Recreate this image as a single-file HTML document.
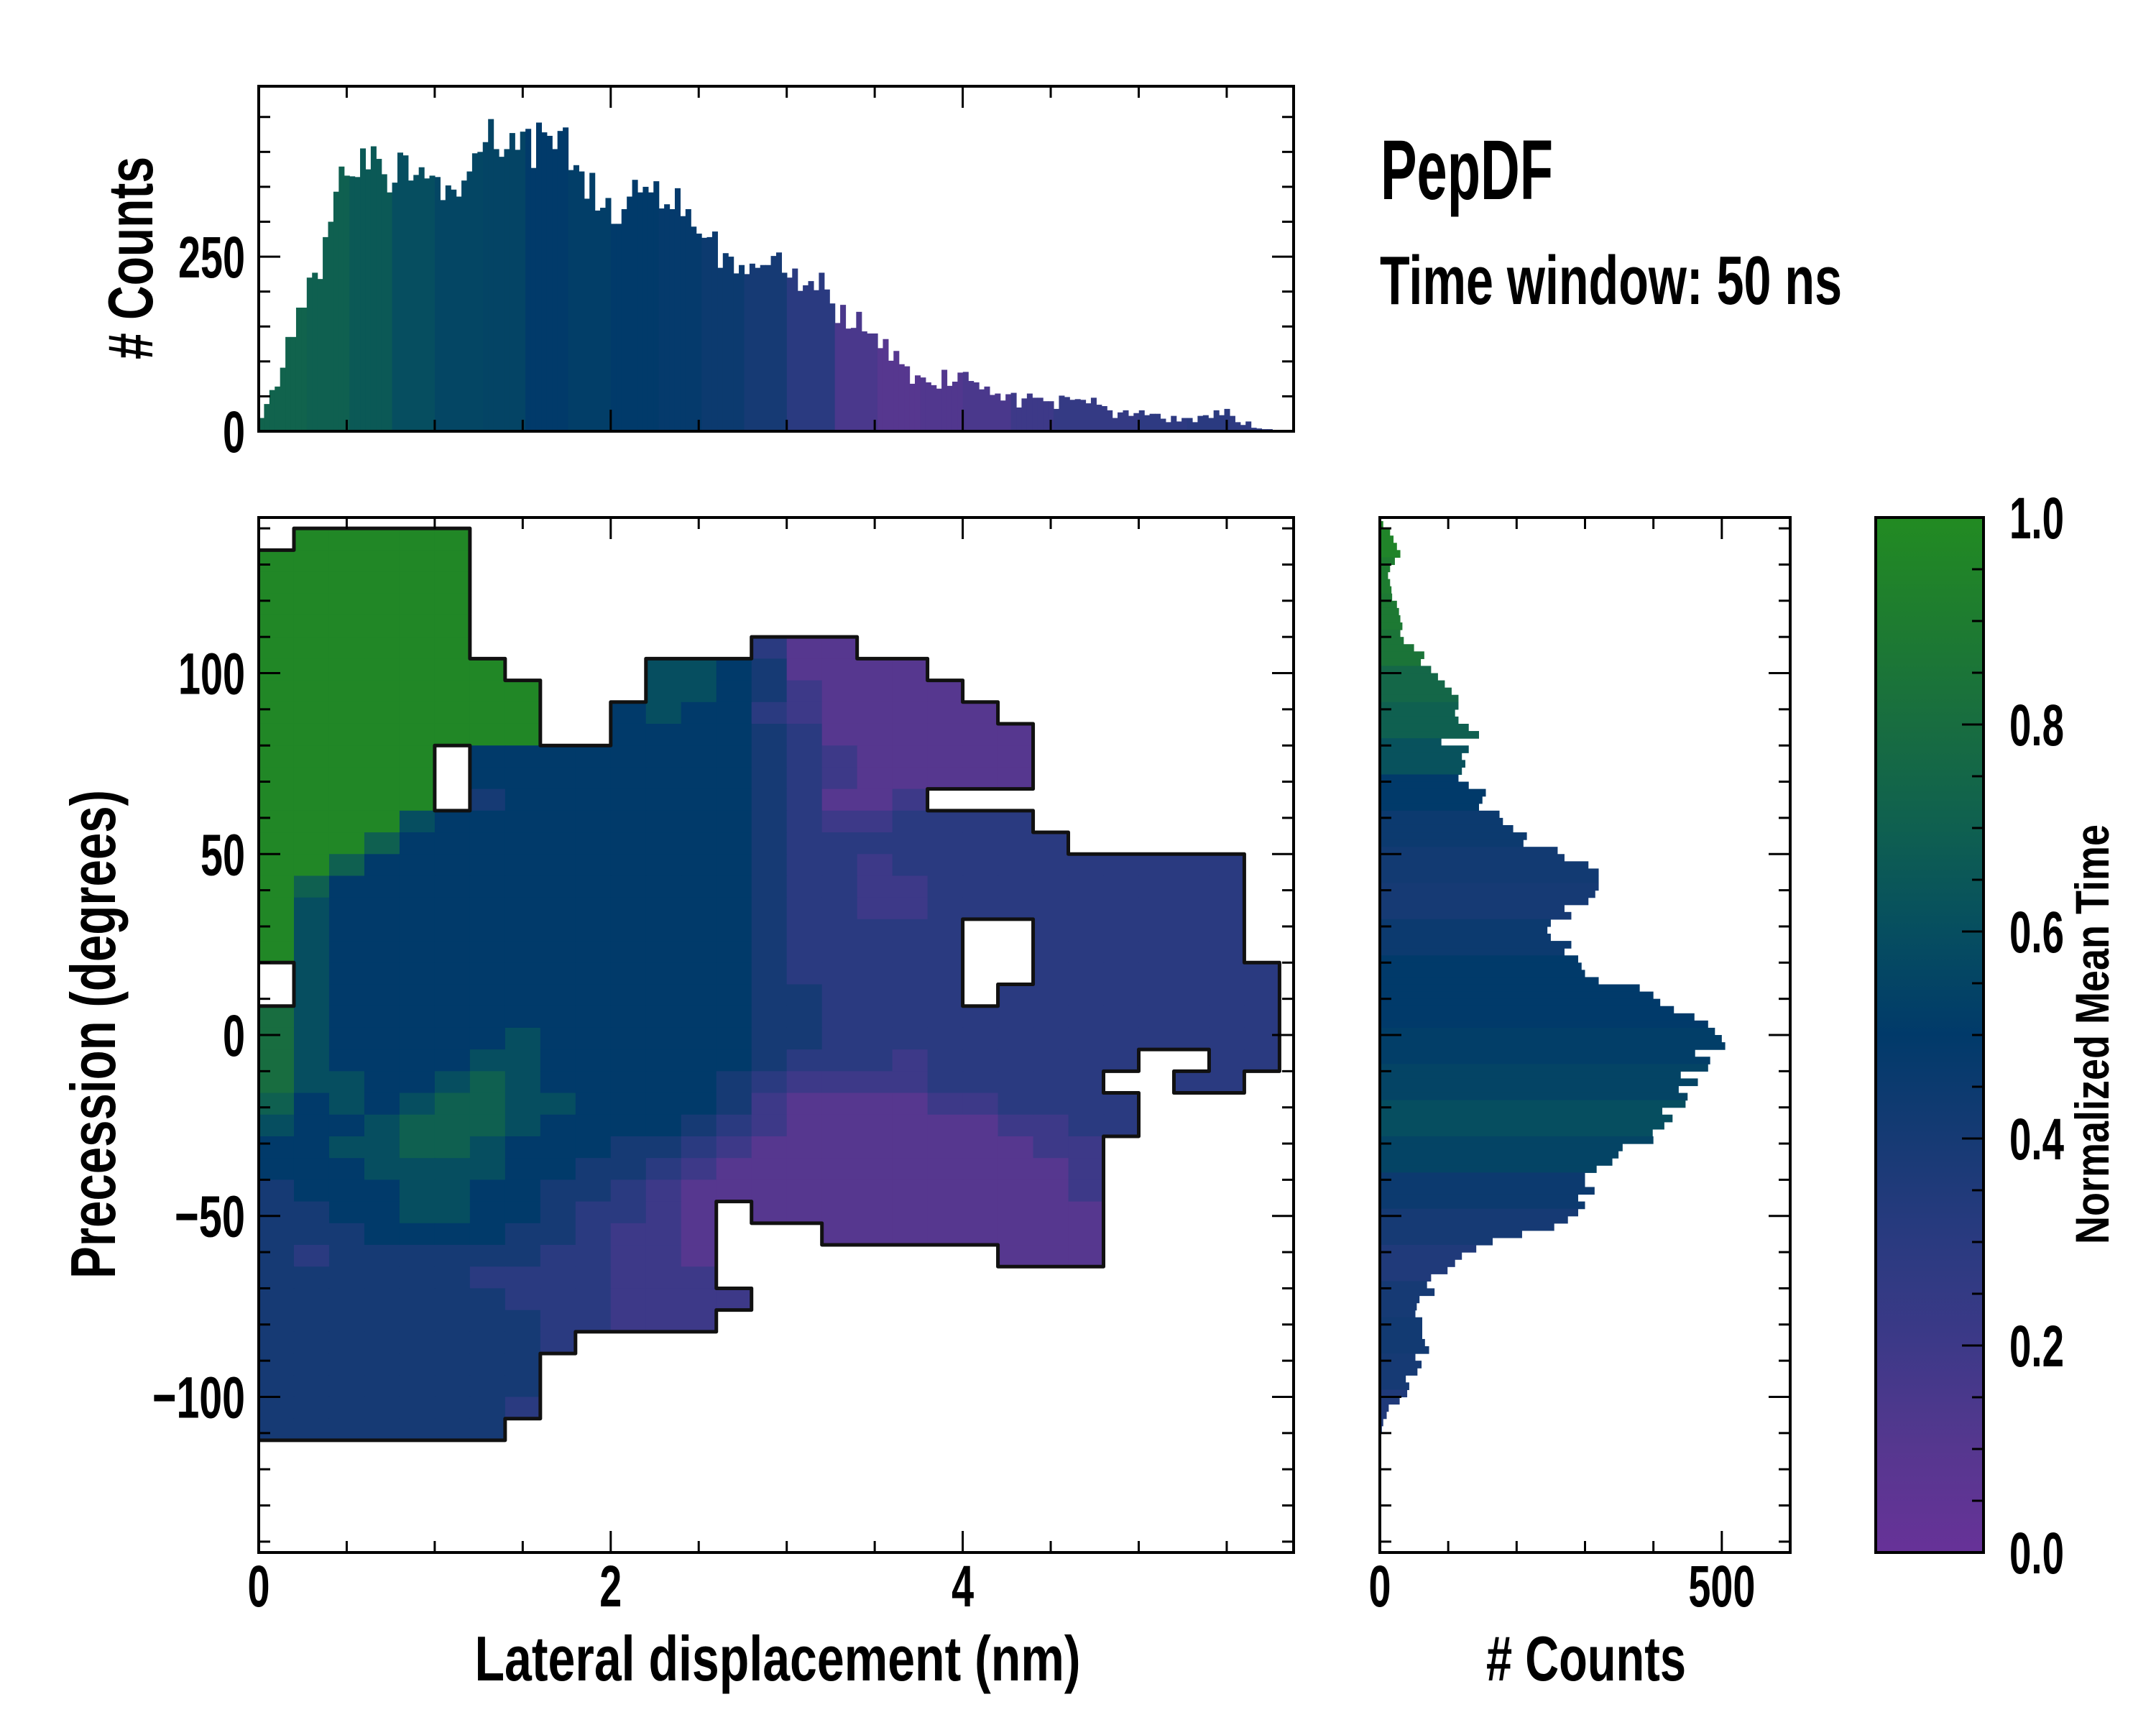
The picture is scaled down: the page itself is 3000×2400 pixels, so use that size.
<!DOCTYPE html>
<html><head><meta charset="utf-8"><style>
html,body{margin:0;padding:0;background:#fff;}
svg{display:block;}
text{font-family:"Liberation Sans Narrow","Liberation Sans",sans-serif;font-weight:bold;fill:#000;}
</style></head><body>
<svg id="fig" width="3000" height="2400" viewBox="0 0 3000 2400" xmlns="http://www.w3.org/2000/svg">
<defs>
<linearGradient id="cbgrad" x1="0" y1="1" x2="0" y2="0"></linearGradient>
<clipPath id="mainclip"><rect x="360" y="720" width="1440" height="1440"/></clipPath>
</defs>
<rect x="0" y="0" width="3000" height="2400" fill="#fff"/>
<g id="topHist"></g>
<g id="mainPlot" clip-path="url(#mainclip)"></g>
<g id="rightHist"></g>
<g id="colorbar"></g>
<g id="axes"></g>

<text x="1921" y="277" font-size="118" textLength="240" lengthAdjust="spacingAndGlyphs">PepDF</text>
<text x="1920" y="423" font-size="96" textLength="643" lengthAdjust="spacingAndGlyphs">Time window: 50 ns</text>
<text x="1082" y="2338" font-size="88" text-anchor="middle" textLength="843" lengthAdjust="spacingAndGlyphs">Lateral displacement (nm)</text>
<text x="2207" y="2338" font-size="88" text-anchor="middle" textLength="278" lengthAdjust="spacingAndGlyphs"># Counts</text>
<text transform="translate(160,1439) rotate(-90)" font-size="88" text-anchor="middle" textLength="680" lengthAdjust="spacingAndGlyphs">Precession (degrees)</text>
<text transform="translate(212,359) rotate(-90)" font-size="88" text-anchor="middle" textLength="282" lengthAdjust="spacingAndGlyphs"># Counts</text>
<text transform="translate(2934,1439) rotate(-90)" font-size="66" text-anchor="middle" textLength="584" lengthAdjust="spacingAndGlyphs">Normalized Mean Time</text>
</svg>
<script>
// ---------- data ----------
const topCounts = [19,39,59,64,91,135,135,177,177,220,227,218,278,300,343,379,366,365,364,405,375,408,390,368,342,356,399,395,359,367,378,362,366,364,331,352,346,336,359,372,398,400,414,447,404,393,404,427,403,429,433,377,442,428,423,404,430,435,374,381,372,333,370,316,320,334,297,297,318,336,360,342,350,342,358,319,325,318,348,308,318,293,283,277,278,286,
234,255,250,226,238,225,240,234,238,238,251,256,227,220,233,201,209,215,202,227,203,183,155,181,147,148,171,143,140,140,119,132,101,115,96,93,68,80,77,70,66,61,88,65,71,84,85,72,70,60,64,52,54,44,53,55,34,47,54,48,48,43,43,32,51,49,45,46,45,40,48,38,36,30,19,27,30,22,26,30,23,25,25,18,13,22,14,19,19,13,22,23,19,30,23,32,22,13,9,14,5,4,3,3,0,0,1,1];
const topColorVals = [0.72,0.7,0.66,0.6,0.56,0.55,0.5,0.52,0.5,0.48,0.45,0.4,0.3,0.15,0.1,0.12,0.15,0.2,0.25,0.25,0.28,0.3,0.28,0.28];
const rightCounts = [5,15,20,25,30,22,15,12,15,17,18,25,28,30,33,30,35,50,65,60,75,85,95,105,115,115,110,115,130,145,90,130,120,125,120,115,130,155,150,145,175,180,195,215,210,260,270,305,320,320,320,315,305,270,280,250,245,250,280,270,290,295,300,320,380,400,410,430,460,480,490,
500,505,461,483,480,440,465,437,450,447,413,428,416,399,400,355,349,340,317,300,300,314,290,300,290,275,255,208,165,141,120,110,99,75,69,80,58,54,52,62,62,62,66,72,52,61,55,38,43,40,29,13,10,5,3];
const rightColorVals = [0.95,0.9,0.88,0.85,0.75,0.7,0.62,0.5,0.45,0.42,0.4,0.45,0.5,0.5,0.52,0.55,0.6,0.55,0.45,0.4,0.35,0.4,0.42,0.4,0.35];
const heatRows = [
".99999.......................",
"999999.......................",
"999999.......................",
"999999.......................",
"999999.......................",
"999999........311............",
"9999999....66541111..........",
"99999999...665421111.........",
"99999999..56553211111........",
"99999999..555543111111.......",
"99999.5555555543211111.......",
"99999.5555555543211111.......",
"99999.4555555543112..........",
"9999655555555543223333.......",
"99975555555555433333333......",
"9975555555555543323333333333.",
"9755555555555543322333333333.",
"9655555555555543322333333333.",
"96555555555555433333..333333.",
"96555555555555433333..333333.",
".6555555555555433333..3333333",
".6555555555555443333.33333333",
"86555555555555443333333333333",
"86555556555555443333333333333",
"8655556655555543332333333..33",
"866556765555543222233333..33.",
"7565677665555421111223333....",
"6556777655554321111112233....",
"556677655544321111111122.....",
"555666655443211111111112.....",
"455566554432111111111112.....",
"4455665543321.1111111111.....",
"4445555443221...11111111.....",
"4344444433221........111.....",
"4444443333222................",
"44444443332222...............",
"4444444433222................",
"444444443....................",
"44444444.....................",
"44444444.....................",
"44444443.....................",
"4444444......................"
];
const xTickLabels = ["0","2","4"];
const yTickLabels = ["100","50","0","\u2212100","\u221250"];

// ---------- geometry ----------
const NS = "http://www.w3.org/2000/svg";
const M = {x0:360,x1:1800,y0:720,y1:2160, xmin:0,xmax:5.88, ymin:-143,ymax:143};
const T = {y0:120,y1:600,cmax:494};
const R = {x0:1920,x1:2491,cmax:600};
const CB = {x0:2610,x1:2760};
const sx = v => M.x0 + (v-M.xmin)/(M.xmax-M.xmin)*(M.x1-M.x0);
const sy = v => M.y1 - (v-M.ymin)/(M.ymax-M.ymin)*(M.y1-M.y0);
const tsy = c => T.y1 - c/T.cmax*(T.y1-T.y0);
const rsx = c => R.x0 + c/R.cmax*(R.x1-R.x0);
const cby = v => M.y1 - v*(M.y1-M.y0);

const stops = [[0,[103,50,152]],[0.1,[86,55,143]],[0.2,[61,57,136]],[0.3,[42,58,128]],[0.4,[22,58,116]],[0.5,[1,58,106]],[0.6,[6,78,96]],[0.7,[15,96,80]],[0.8,[24,109,64]],[0.9,[30,124,48]],[1,[34,139,34]]];
function cmap(v){
  v=Math.max(0,Math.min(1,v));
  for(let i=1;i<stops.length;i++){
    if(v<=stops[i][0]){
      const a=stops[i-1],b=stops[i],t=(v-a[0])/(b[0]-a[0]);
      const c=a[1].map((x,k)=>Math.round(x+(b[1][k]-x)*t));
      return "rgb("+c.join(",")+")";
    }
  }
  return "rgb(34,139,34)";
}
function el(tag,attrs,parent){
  const e=document.createElementNS(NS,tag);
  for(const k in attrs) e.setAttribute(k,attrs[k]);
  parent.appendChild(e); return e;
}

// ---------- top histogram ----------
const gT=document.getElementById("topHist");
const binW=(M.xmax-M.xmin)/topCounts.length;
topCounts.forEach((c,i)=>{
  const xa=i*binW, xb=(i+1)*binW;
  const seg=Math.min(topColorVals.length-1,Math.floor(xa/0.25));
  const r=el("rect",{x:sx(xa),y:tsy(c),width:sx(xb)-sx(xa)+0.6,height:T.y1-tsy(c),fill:cmap(topColorVals[seg])},gT);
  
  
});

// ---------- right histogram ----------
const gR=document.getElementById("rightHist");
const rTop=142, rStep=2;
rightCounts.forEach((c,i)=>{
  const ya=rTop-i*rStep, yb=ya-rStep;
  const seg=Math.min(rightColorVals.length-1,Math.floor((140-yb)/10));
  const r=el("rect",{x:R.x0,y:sy(ya),width:rsx(c)-R.x0,height:sy(yb)-sy(ya)+0.6,fill:cmap(rightColorVals[Math.max(0,seg)])},gR);
  
  
});

// ---------- heatmap ----------
const gM=document.getElementById("mainPlot");
const cellW=0.2, cellH=6, hTop=140;
const nR=heatRows.length, nC=29;
const grid=heatRows.map(s=>(s+".".repeat(nC)).slice(0,nC));
function val(ch){ if(ch==='.') return null; const d=+ch; return d===9?0.97:d/10; }
for(let r=0;r<nR;r++){
  for(let c=0;c<nC;c++){
    const v=val(grid[r][c]); if(v===null) continue;
    const x=sx(c*cellW), y=sy(hTop-r*cellH);
    const cell=el("rect",{x:x,y:y,width:sx((c+1)*cellW)-x+0.5,height:sy(hTop-(r+1)*cellH)-y+0.5,fill:cmap(v)},gM);
    
    
  }
}
const filled=(r,c)=>r>=0&&r<nR&&c>=0&&c<nC&&grid[r][c]!=='.';
let d="";
for(let r=0;r<nR;r++){
  for(let c=0;c<nC;c++){
    if(!filled(r,c)) continue;
    const xa=sx(c*cellW), xb=sx((c+1)*cellW), ya=sy(hTop-r*cellH), yb=sy(hTop-(r+1)*cellH);
    if(!filled(r-1,c)) d+=`M${xa},${ya}L${xb},${ya}`;
    if(!filled(r+1,c)) d+=`M${xa},${yb}L${xb},${yb}`;
    if(!filled(r,c-1)&&c>0) d+=`M${xa},${ya}L${xa},${yb}`;
    if(!filled(r,c+1)) d+=`M${xb},${ya}L${xb},${yb}`;
  }
}
const outline=el("path",{d:d,stroke:"#111",fill:"none","stroke-width":5,"stroke-linecap":"round"},gM);



// ---------- colorbar ----------
const grad=document.getElementById("cbgrad");
stops.forEach(s=>{ el("stop",{offset:s[0],"stop-color":"rgb("+s[1].join(",")+")"},grad); });
const gC=document.getElementById("colorbar");
const cbr=el("rect",{x:CB.x0,y:M.y0,width:CB.x1-CB.x0,height:M.y1-M.y0,fill:"url(#cbgrad)",stroke:"#000","stroke-width":4},gC);



// ---------- axes ----------
const gA=document.getElementById("axes");
function line(x1,y1,x2,y2,w,name){
  const l=el("line",{x1:x1,y1:y1,x2:x2,y2:y2,stroke:"#000","stroke-width":w},gA);
  
  
}
function frame(x0,y0,x1,y1,name){
  const f=el("rect",{x:x0,y:y0,width:x1-x0,height:y1-y0,fill:"none",stroke:"#000","stroke-width":4},gA);
  
  
}
function txtW(s){ let w=0; for(const ch of s){ w+= ch==='.'?14:(ch==='\u2212'?36:31); } return w; }
function label(x,y,txt,anchor,name){
  const t=el("text",{x:x,y:y,"font-size":82,"text-anchor":anchor,textLength:txtW(txt),lengthAdjust:"spacingAndGlyphs"},gA);
  t.textContent=txt;
  
  
}
const MAJ=30, MIN=16, TW=3;
for(let v=0; v<=M.xmax+1e-9; v+=0.5){
  const x=sx(v), major=Math.abs(v%2)<1e-9, L=major?MAJ:MIN;
  line(x,M.y1,x,M.y1-L,TW,'x-tick'); line(x,M.y0,x,M.y0+L,TW,'x-tick');
  line(x,T.y1,x,T.y1-L,TW,'top-hist-x-tick'); line(x,T.y0,x,T.y0+L,TW,'top-hist-x-tick');
}
xTickLabels.forEach(s=>{ label(sx(+s),2235,s,"middle",'x-tick-label'); });
for(let v=-140; v<=140; v+=10){
  const y=sy(v), major=v%50===0, L=major?MAJ:MIN;
  line(M.x0,y,M.x0+L,y,TW,'y-tick'); line(M.x1,y,M.x1-L,y,TW,'y-tick');
  line(R.x0,y,R.x0+L,y,TW,'right-hist-y-tick'); line(R.x1,y,R.x1-L,y,TW,'right-hist-y-tick');
}
yTickLabels.forEach(s=>{ const v=+s.replace("\u2212","-"); label(341,sy(v)+29,s,"end",'y-tick-label'); });
for(let c=0;c<=T.cmax;c+=50){
  const y=tsy(c), major=c%250===0, L=major?MAJ:MIN;
  line(M.x0,y,M.x0+L,y,TW,'top-hist-y-tick'); line(M.x1,y,M.x1-L,y,TW,'top-hist-y-tick');
}
label(341,tsy(0)+29,"0","end",'top-hist-y-tick-label');
label(341,tsy(250)+29,"250","end",'top-hist-y-tick-label');
for(let c=0;c<=R.cmax;c+=100){
  const x=rsx(c), major=c%500===0, L=major?MAJ:MIN;
  line(x,M.y1,x,M.y1-L,TW,'right-hist-x-tick'); line(x,M.y0,x,M.y0+L,TW,'right-hist-x-tick');
}
label(rsx(0),2235,"0","middle",'right-hist-x-tick-label');
label(rsx(500),2235,"500","middle",'right-hist-x-tick-label');
for(let i=0;i<=20;i++){
  const v=i/20, y=cby(v), major=i%4===0, L=major?MAJ:MIN;
  line(CB.x1,y,CB.x1-L,y,TW,'colorbar-tick');
  if(major) label(2796,y+29,v.toFixed(1),"start",'colorbar-tick-label');
}
frame(M.x0,T.y0,M.x1,T.y1,'top-hist-frame');
frame(M.x0,M.y0,M.x1,M.y1,'main-plot-frame');
frame(R.x0,M.y0,R.x1,M.y1,'right-hist-frame');
</script>
</body></html>
